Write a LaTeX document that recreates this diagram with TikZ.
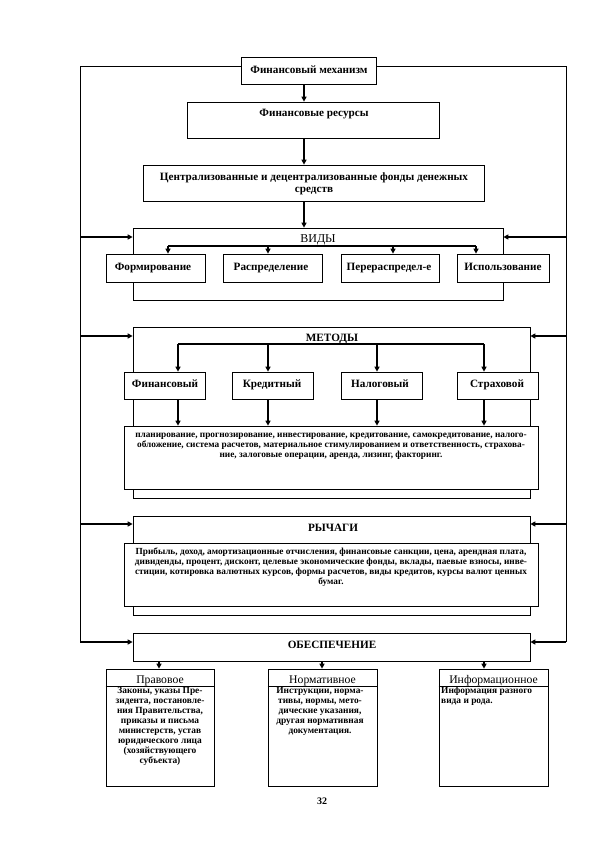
\documentclass[tikz,border=0pt]{standalone}
\usepackage{fontspec}
\setmainfont{Liberation Serif}
\usetikzlibrary{arrows.meta}
\begin{document}
\begin{tikzpicture}[x=1pt,y=-1pt,
  box/.style={draw,line width=0.7pt,inner sep=0pt,fill=white},
  frame/.style={line width=0.7pt},
  arr/.style={line width=1.3pt,-{Triangle[length=5pt,width=5pt]}},
  bline/.style={line width=1.3pt},
  ttl/.style={font=\fontsize{11.2}{12}\selectfont\bfseries,inner sep=0pt,align=center},
  ttlb/.style={font=\fontsize{11.2}{12}\selectfont\bfseries,inner sep=0pt,anchor=base},
  ttlr/.style={font=\fontsize{12}{13}\selectfont,inner sep=0pt,anchor=base},
  small/.style={font=\fontsize{9.3}{10}\selectfont\bfseries,inner sep=0pt},
  smallb/.style={font=\fontsize{9.4}{10}\selectfont\bfseries,inner sep=0pt},
  hdr/.style={font=\fontsize{11.7}{12}\selectfont,inner sep=0pt,anchor=base}]
\useasboundingbox (0,0) rectangle (595,842);
% boxes
\node[box,minimum width=135pt,minimum height=27pt] (mech) at (308.5,70.5) {};
\node[box,minimum width=252pt,minimum height=36pt] (res) at (313,120) {};
\node[box,minimum width=341pt,minimum height=36pt] (fonds) at (313.5,183) {};
\node[box,minimum width=370pt,minimum height=72pt] (vidy) at (318,264) {};
\node[box,minimum width=99pt,minimum height=28pt] (f1) at (155.5,268) {};
\node[box,minimum width=99pt,minimum height=28pt] (f2) at (272.5,268) {};
\node[box,minimum width=98pt,minimum height=28pt] (f3) at (390,268) {};
\node[box,minimum width=92pt,minimum height=28pt] (f4) at (503,268) {};
\node[box,minimum width=397pt,minimum height=171pt] (metody) at (331.5,412.5) {};
\node[box,minimum width=81pt,minimum height=27pt] (m1) at (164.5,385.5) {};
\node[box,minimum width=81pt,minimum height=27pt] (m2) at (272.5,385.5) {};
\node[box,minimum width=81pt,minimum height=27pt] (m3) at (381.5,385.5) {};
\node[box,minimum width=81pt,minimum height=27pt] (m4) at (497.5,385.5) {};
\node[box,minimum width=414pt,minimum height=63pt] (mtext) at (331,457.5) {};
\node[box,minimum width=397pt,minimum height=99pt] (rych) at (331.5,565.5) {};
\node[box,minimum width=414pt,minimum height=63pt] (rtext) at (331,574.5) {};
\node[box,minimum width=397pt,minimum height=28pt] (obes) at (331.5,647) {};
\node[box,minimum width=108pt,minimum height=117pt] (p1) at (160,727.5) {};
\node[box,minimum width=109pt,minimum height=117pt] (p2) at (322.5,727.5) {};
\node[box,minimum width=109pt,minimum height=117pt] (p3) at (493.5,727.5) {};
\draw[frame] (p1.west |- 0,686) -- (p1.east |- 0,686);
\draw[frame] (p2.west |- 0,686) -- (p2.east |- 0,686);
\draw[frame] (p3.west |- 0,686) -- (p3.east |- 0,686);
% texts
\node[ttlb] (tmech) at (309,74) {Финансовый механизм};
\node[ttlb] (tres) at (314,117) {Финансовые ресурсы};
\node[ttl] (tfonds) at (314,183.5) {Централизованные и децентрализованные фонды денежных\\средств};
\node[ttlr] (tvidy) at (318,242.5) {ВИДЫ};
\node[ttlb] (tf1) at (153,270) {Формирование};
\node[ttlb] (tf2) at (271,270) {Распределение};
\node[ttlb] (tf3) at (389,270) {Перераспредел-е};
\node[ttlb] (tf4) at (503,270) {Использование};
\node[ttlb] (tmet) at (332,341.5) {МЕТОДЫ};
\node[ttlb] (tm1) at (165,387) {Финансовый};
\node[ttlb] (tm2) at (272,387) {Кредитный};
\node[ttlb] (tm3) at (380,387) {Налоговый};
\node[ttlb] (tm4) at (497,387) {Страховой};
\node[small,align=center,anchor=north] (tmtext) at (331,433) {планирование, прогнозирование, инвестирование, кредитование, самокредитование, налого-\\обложение, система расчетов, материальное стимулированием и ответственность, страхова-\\ние, залоговые операции, аренда, лизинг, факторинг.};
\node[ttlb] (trych) at (333,531.5) {РЫЧАГИ};
\node[small,align=center,anchor=north] (trtext) at (331,548) {Прибыль, доход, амортизационные отчисления, финансовые санкции, цена, арендная плата,\\дивиденды, процент, дисконт, целевые экономические фонды, вклады, паевые взносы, инве-\\стиции, котировка валютных курсов, формы расчетов, виды кредитов, курсы валют ценных\\бумаг.};
\node[ttlb] (tobes) at (332,648.5) {ОБЕСПЕЧЕНИЕ};
\node[hdr] (th1) at (160,683.5) {Правовое};
\node[hdr] (th2) at (322.5,683.5) {Нормативное};
\node[hdr] (th3) at (493.5,683.5) {Информационное};
\node[smallb,align=center,anchor=north] (tb1) at (160,687) {Законы, указы Пре-\\зидента, постановле-\\ния Правительства,\\приказы и письма\\министерств, устав\\юридического лица\\(хозяйствующего\\субъекта)};
\node[smallb,align=center,anchor=north] (tb2) at (320,687) {Инструкции, норма-\\тивы, нормы, мето-\\дические указания,\\другая нормативная\\документация.};
\node[smallb,align=left,anchor=north west] (tb3) at (441,687) {Информация разного\\вида и рода.};
\node[font=\fontsize{10}{11}\selectfont\bfseries,inner sep=0pt] (pg) at (322,801) {32};
% main vertical arrows
\coordinate (ax) at (304,0);
\draw[arr] (mech.south -| ax) -- (res.north -| ax);
\draw[arr] (res.south -| ax) -- (fonds.north -| ax);
\draw[arr] (fonds.south -| ax) -- (vidy.north -| ax);
% vidy bracket
\coordinate (vb1) at (168,246);
\coordinate (vb2) at (268,246);
\coordinate (vb3) at (393,246);
\coordinate (vb4) at (476,246);
\draw[bline] (vb1) -- (vb4);
\draw[arr] (vb1) -- (vb1 |- f1.north);
\draw[arr] (vb2) -- (vb2 |- f2.north);
\draw[arr] (vb3) -- (vb3 |- f3.north);
\draw[arr] (vb4) -- (vb4 |- f4.north);
% metody bracket
\coordinate (mb1) at (178,344);
\coordinate (mb2) at (268,344);
\coordinate (mb3) at (377,344);
\coordinate (mb4) at (484,344);
\draw[bline] (mb1) -- (mb4);
\draw[arr] (mb1) -- (mb1 |- m1.north);
\draw[arr] (mb2) -- (mb2 |- m2.north);
\draw[arr] (mb3) -- (mb3 |- m3.north);
\draw[arr] (mb4) -- (mb4 |- m4.north);
\draw[arr] (m1.south -| mb1) -- (mtext.north -| mb1);
\draw[arr] (m2.south -| mb2) -- (mtext.north -| mb2);
\draw[arr] (m3.south -| mb3) -- (mtext.north -| mb3);
\draw[arr] (m4.south -| mb4) -- (mtext.north -| mb4);
% obespechenie arrows
\coordinate (ob1) at (159,0);
\coordinate (ob2) at (322,0);
\coordinate (ob3) at (484,0);
\draw[arr] (obes.south -| ob1) -- (p1.north -| ob1);
\draw[arr] (obes.south -| ob2) -- (p2.north -| ob2);
\draw[arr] (obes.south -| ob3) -- (p3.north -| ob3);
% outer frame
\coordinate (ltop) at (80,66);
\coordinate (rtop) at (566,66);
\coordinate (lbot) at (80,642);
\coordinate (rbot) at (566,642);
\draw[frame] (mech.west |- ltop) -- (ltop) -- (lbot);
\draw[frame] (mech.east |- rtop) -- (rtop) -- (rbot);
\coordinate (y1) at (0,237);
\coordinate (y2) at (0,336);
\coordinate (y3) at (0,524);
\draw[arr] (ltop |- y1) -- (vidy.west |- y1);
\draw[arr] (rtop |- y1) -- (vidy.east |- y1);
\draw[arr] (ltop |- y2) -- (metody.west |- y2);
\draw[arr] (rtop |- y2) -- (metody.east |- y2);
\draw[arr] (ltop |- y3) -- (rych.west |- y3);
\draw[arr] (rtop |- y3) -- (rych.east |- y3);
\draw[arr] (lbot) -- (obes.west |- lbot);
\draw[arr] (rbot) -- (obes.east |- rbot);
\end{tikzpicture}
\end{document}
